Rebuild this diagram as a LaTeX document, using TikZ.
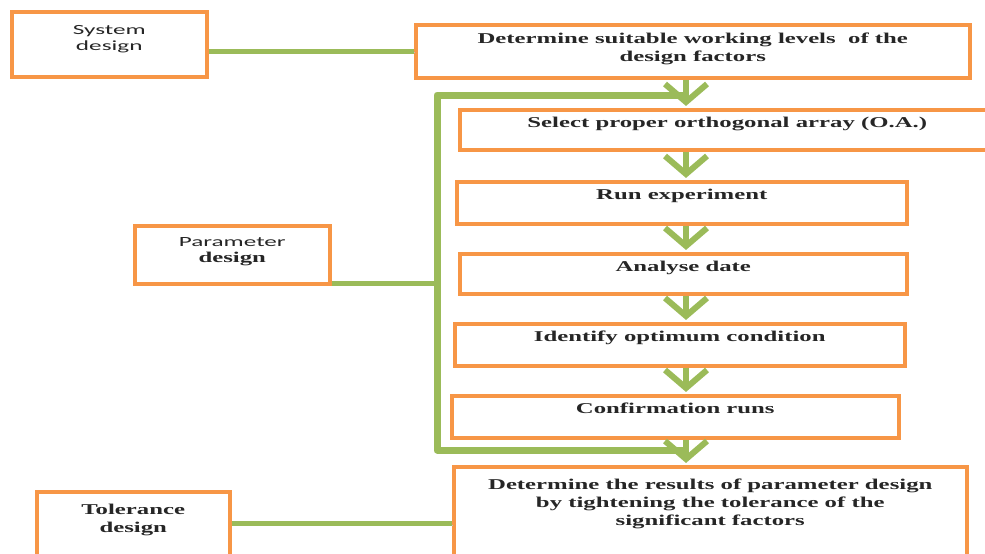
\documentclass[tikz,border=0pt]{standalone}
\usepackage{fontspec}
\setmainfont{Liberation Serif}[FakeStretch=1.65]
\newfontfamily\sfc{Carlito}[FakeStretch=1.8]
\usetikzlibrary{calc}
\definecolor{oorange}{HTML}{F79646}
\definecolor{ogreen}{HTML}{9BBB59}
\tikzset{
  obox/.style={draw=oorange, line width=3.5pt, fill=white, inner sep=0pt, anchor=north west},
  ftxt/.style={font=\fontsize{15}{18}\selectfont\bfseries, align=center, inner sep=0pt, anchor=base, text=black!85},
  stxt/.style={font=\fontsize{14}{16}\selectfont, align=center, inner sep=0pt, anchor=base, text=black!85},
  gline/.style={draw=ogreen, line width=6pt,
    preaction={draw=black!25, transform canvas={shift={(0.8pt,-1.4pt)}}}},
}
\newcommand\garrow[2]{%
  \draw[gline] (ax |- #1.south) -- ($(ax |- #2.north)+(0,-7)$);
  \draw[gline, line join=miter] ($(ax |- #2.north)+(-21,-24)$) -- ($(ax |- #2.north)+(0,-6)$) -- ($(ax |- #2.north)+(21,-24)$);
}
\begin{document}
\begin{tikzpicture}[x=1pt,y=-1pt]
\useasboundingbox[fill=white] (0,0) rectangle (985,554);
\clip (0,0) rectangle (985,554);
\coordinate (ax) at (686,0);
\coordinate (tl) at (437,95);
\coordinate (bl) at (437,450);

% boxes
\node[obox, minimum width=195, minimum height=65] (sys) at (10,10) {};
\node[obox, minimum width=554, minimum height=53] (det) at (414,23) {};
\node[obox, minimum width=535, minimum height=40] (sel) at (458,108) {};
\node[obox, minimum width=450, minimum height=42] (run) at (455,180) {};
\node[obox, minimum width=447, minimum height=40] (ana) at (458,252) {};
\node[obox, minimum width=450, minimum height=42] (ide) at (453,322) {};
\node[obox, minimum width=447, minimum height=42] (con) at (450,394) {};
\node[obox, minimum width=513, minimum height=95] (res) at (452,465) {};
\node[obox, minimum width=195, minimum height=58] (par) at (133,224) {};
\node[obox, minimum width=193, minimum height=70] (tol) at (35,490) {};

% labels (base anchor = baseline of the last line)
\node[stxt] (sys-t) at ([yshift=-40pt]sys.north) {\sfc System\\\sfc design};
\node[ftxt] (det-t) at ([yshift=-38pt]det.north) {Determine suitable working levels\ \ of the\\design factors};
\node[ftxt] (sel-t) at ([yshift=-19pt]sel.north) {Select proper orthogonal array (O.A.)};
\node[ftxt] (run-t) at ([yshift=-19pt]run.north) {Run experiment};
\node[ftxt] (ana-t) at ([yshift=-19pt]ana.north) {Analyse date};
\node[ftxt] (ide-t) at ([yshift=-19pt]ide.north) {Identify optimum condition};
\node[ftxt] (con-t) at ([yshift=-19pt]con.north) {Confirmation runs};
\node[ftxt] (res-t) at ([yshift=-60pt]res.north) {Determine the results of parameter design\\by tightening the tolerance of the\\significant factors};
\node[stxt] (par-t) at ([yshift=-38pt]par.north) {\sfc Parameter\\\fontsize{15}{16}\selectfont\bfseries design};
\node[ftxt] (tol-t) at ([yshift=-42pt]tol.north) {Tolerance\\design};

% connectors
\draw[gline, line width=5pt] (sys.east |- det.west) -- (det.west);
\draw[gline, line width=5pt] ([yshift=2pt]par.south east) -- ([yshift=2pt]par.south east -| tl);
\draw[gline, line width=5pt] ([yshift=3pt]tol.east) -- ([yshift=3pt]tol.east -| res.west);
\draw[gline, line width=7pt, line join=round] (ax |- tl) -- (tl) -- (bl) -- (ax |- bl);

% arrows
\garrow{det}{sel}
\garrow{sel}{run}
\garrow{run}{ana}
\garrow{ana}{ide}
\garrow{ide}{con}
\garrow{con}{res}
\end{tikzpicture}
\end{document}
